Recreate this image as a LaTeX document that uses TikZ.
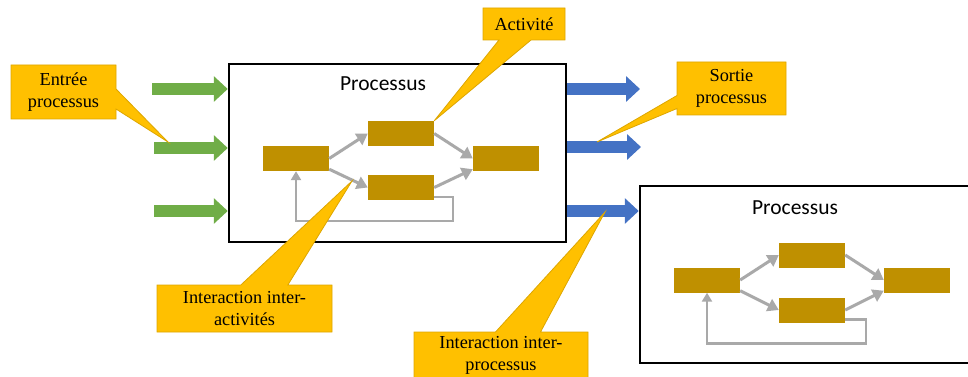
\documentclass[tikz,border=0pt]{standalone}
\usepackage{fontspec}
\setmainfont{Liberation Serif}
\newfontfamily\procfont{Carlito}
\newfontfamily\callfont{Liberation Serif}
\usetikzlibrary{arrows.meta, shapes.callouts, positioning, calc}
\definecolor{actcol}{HTML}{BF9000}
\definecolor{callcol}{HTML}{FFC000}
\definecolor{calledge}{HTML}{DDA600}
\definecolor{incol}{HTML}{70AD47}
\definecolor{outcol}{HTML}{4472C4}
\definecolor{linkcol}{HTML}{A9A9A9}

\begin{document}
\begin{tikzpicture}[x=1pt, y=-1pt,
    procbox/.style={draw=black, line width=2.5pt, fill=white, inner sep=0pt},
    proctitle/.style={font=\procfont\fontsize{21.5}{24}\selectfont},
    actbox/.style={fill=actcol, minimum width=66pt, minimum height=25pt, inner sep=0pt},
    link/.style={draw=linkcol, line width=3pt, -{Triangle[length=11pt,width=13pt]}},
    back/.style={draw=linkcol, line width=2.5pt, -{Triangle[length=9pt,width=10pt]}},
    inarrow/.style={draw=incol, line width=12pt, -{Triangle[length=14pt,width=25pt]}},
    outarrow/.style={draw=outcol, line width=12pt, -{Triangle[length=14pt,width=25pt]}},
    callbox/.style={rectangle callout, fill=callcol, draw=calledge, line width=0.8pt,
      align=center, inner sep=0pt, font=\callfont\fontsize{18.3}{22.5}\selectfont}]

    \useasboundingbox (0,0) rectangle (968,377);

    \node[procbox, minimum width=337pt, minimum height=178pt] (proc) at (397.5,153) {};
    \node[proctitle] (ptitle) at (383,84) {Processus};
    \node[actbox] (a1) at (296,158.5) {};
    \node[actbox] (a2) at (401,133.5) {};
    \node[actbox] (a3) at (401,187.5) {};
    \node[actbox] (a4) at (506,158.5) {};
    \draw[link] (a1.east) -- (a2.west);
    \draw[link] ([yshift=2pt]a1.south east) -- (a3.west);
    \draw[link] (a2.east) -- (a4.west);
    \draw[link] (a3.east) -- ([yshift=2pt]a4.south west);
    \draw[back] ([yshift=3pt]a3.south east) -- ++(19,0) -- ++(0,24) -| (a1.south);

    \node[procbox, minimum width=340pt, minimum height=177pt] (proc2) at (810,274.5) {};
    \node[proctitle] (ptitle2) at (795,208) {Processus};
    \node[actbox] (b1) at (707,280) {};
    \node[actbox] (b2) at (812,255) {};
    \node[actbox] (b3) at (812,310) {};
    \node[actbox] (b4) at (917,280) {};
    \draw[link] (b1.east) -- (b2.west);
    \draw[link] ([yshift=2pt]b1.south east) -- (b3.west);
    \draw[link] (b2.east) -- (b4.west);
    \draw[link] (b3.east) -- ([yshift=2pt]b4.south west);
    \draw[back] ([yshift=3pt]b3.south east) -- ++(21,0) -- ++(0,24) -| (b1.south);

    \coordinate (in1) at (152,89);
    \coordinate (in2) at (154,148);
    \coordinate (in3) at (154,211);
    \draw[inarrow] (in1) -- (proc.west |- in1);
    \draw[inarrow] (in2) -- (proc.west |- in2);
    \draw[inarrow] (in3) -- (proc.west |- in3);

    \coordinate (out1) at (640,89);
    \coordinate (out2) at (641,147);
    \draw[outarrow] (proc.east |- out1) -- (out1);
    \draw[outarrow] (proc.east |- out2) -- (out2);
    \draw[outarrow] (proc.east |- proc2.west) ++(0,-63.5) coordinate (out3) -- (proc2.west |- out3);

    \coordinate (tipin) at (168,142);
    \coordinate (tipout) at (597,142);
    \coordinate (tipact) at (352,181);
    \coordinate (tipproc) at (605,212);
    \node[callbox, minimum width=105pt, minimum height=54pt, callout pointer width=20pt,
      callout absolute pointer={(tipin)}] (centree) at (63.5,92) {Entrée\\processus};
    \node[callbox, minimum width=82pt, minimum height=32pt, callout pointer width=32pt,
      callout absolute pointer={(a2.north east)}] (cact) at (524,24) {Activité};
    \node[callbox, minimum width=109pt, minimum height=53pt, callout pointer width=13pt,
      callout absolute pointer={(tipout)}] (csortie) at (731.5,88.5) {Sortie\\processus};
    \node[callbox, minimum width=175pt, minimum height=47pt, callout pointer width=47pt,
      callout absolute pointer={(tipact)}] (cinter) at (244.5,308.5) {Interaction inter-\\activités};
    \node[callbox, minimum width=174pt, minimum height=47pt, callout pointer width=45pt,
      callout absolute pointer={(tipproc)}] (cinterp) at (501,355.5) {Interaction inter-\\processus};
\end{tikzpicture}
\end{document}
